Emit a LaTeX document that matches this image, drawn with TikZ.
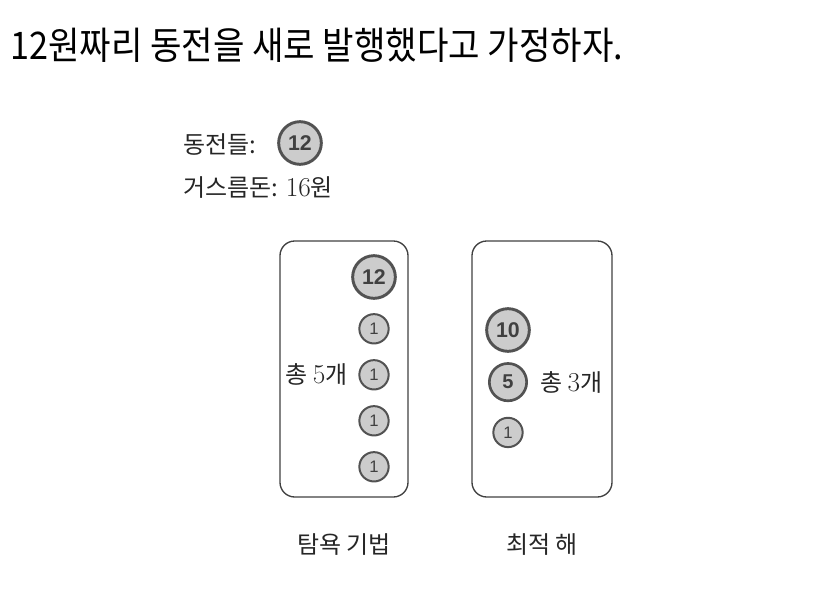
\documentclass[tikz,border=0pt]{standalone}
\usepackage{fontspec}
\newfontfamily\krfont{Noto Sans CJK KR}
\newfontfamily\titlefont[FakeStretch=0.9]{Noto Sans CJK KR}
\newfontfamily\coinfont{Liberation Sans}
\usetikzlibrary{positioning}
\newcommand{\serifnum}[1]{{\rmfamily\fontsize{20.5}{21}\selectfont #1}}

\begin{document}
\begin{tikzpicture}[
    x=0.75pt, y=-0.75pt,
    node distance=11pt,
    lbl/.style={font=\krfont\fontsize{18}{21}\selectfont, inner sep=1pt, text=black!85},
    panel/.style={draw=black!75, line width=1pt, rounded corners=11pt, minimum height=192pt},
    coin/.style={circle, draw=black!68, fill=black!20, text=black!75, inner sep=0pt},
    bigcoin/.style={coin, line width=2.2pt, minimum size=32pt, font=\coinfont\bfseries\fontsize{16}{16}\selectfont},
    midcoin/.style={coin, line width=2pt, minimum size=28pt, font=\coinfont\bfseries\fontsize{15}{15}\selectfont},
    smallcoin/.style={coin, line width=1.5pt, minimum size=22pt, font=\coinfont\fontsize{12.5}{12.5}\selectfont}
  ]
    \useasboundingbox (0,0) rectangle (819,590);
    % title
    \node[anchor=west, inner sep=0pt, font=\titlefont\fontsize{28.5}{32}\selectfont, text=black]
      (title) at (10,45) {12원짜리 동전을 새로 발행했다고 가정하자.};
    % given coins and change
    \node[lbl, anchor=west] (coinslbl) at (182,145) {동전들:};
    \node[bigcoin] (given) at (300,143) {12};
    \node[lbl, anchor=west] (change) at (182,188) {거스름돈: \serifnum{16}원};
    % panels
    \node[panel, minimum width=96pt] (greedy) at (344,369) {};
    \node[panel, minimum width=105pt] (optimal) at (542,369) {};
    % greedy coins
    \node[bigcoin] (g12) at (374,277) {12};
    \node[smallcoin, below=10pt of g12] (ga) {1};
    \node[smallcoin, below=11pt of ga] (gb) {1};
    \node[smallcoin, below=11pt of gb] (gc) {1};
    \node[smallcoin, below=11pt of gc] (gd) {1};
    \node[lbl, left=7pt of gb] (gsum) {총 \serifnum{5}개};
    % optimal coins
    \node[bigcoin] (o10) at (508,330) {10};
    \node[midcoin, below=7pt of o10] (o5) {5};
    \node[smallcoin, below=11pt of o5] (o1) {1};
    \node[lbl, right=8pt of o5] (osum) {총 \serifnum{3}개};
    % captions
    \node[lbl, below=26pt of greedy] (greedycap) {탐욕 기법};
    \node[lbl, below=26pt of optimal] (optcap) {최적 해};
  \end{tikzpicture}
\end{document}
